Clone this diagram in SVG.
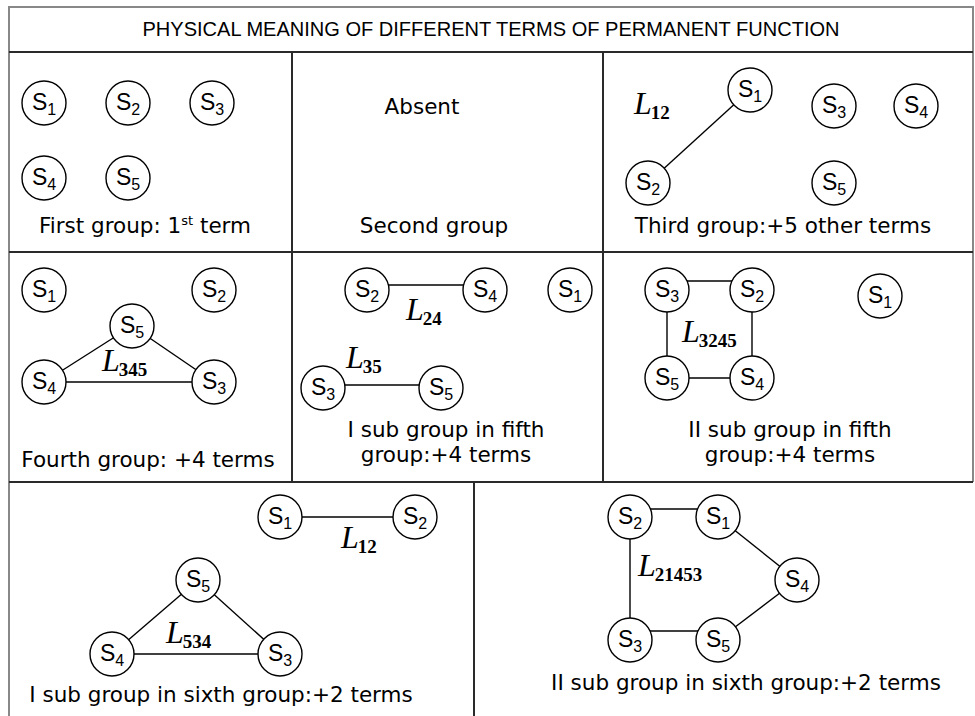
<svg xmlns="http://www.w3.org/2000/svg" width="975" height="716" viewBox="0 0 975 716">
<style>
.bg{fill:#fff}
.outer{stroke:#888;stroke-width:2;fill:none}
.grid{stroke:#2a2a2a;stroke-width:2;fill:none}
.c{fill:#fff;stroke:#000;stroke-width:1.4}
.e{stroke:#000;stroke-width:1.4;fill:none}
.s{font-family:"Liberation Sans",Arial,sans-serif;font-size:23px;fill:#000}
.sub{font-size:16px}
.L{font-family:"Liberation Serif","Times New Roman",serif;font-style:italic;font-size:32px;fill:#000}
.Ls{font-style:normal;font-weight:bold;font-size:19px}
.t{font-family:"DejaVu Sans",Verdana,sans-serif;font-size:21.5px;fill:#000}
.sup{font-size:13px}
.h{font-family:"Liberation Sans",Arial,sans-serif;font-size:21px;fill:#000}
</style>
<rect class="bg" x="0" y="0" width="975" height="716"/>
<g id="grid">
<path class="outer" d="M9,716 V7 H973 V482"/>
<path class="grid" d="M9,52 H973 M9,252 H973 M9,482 H973 M292,52 V482 M603,52 V482 M474,482 V716"/>
</g>
<text class="h" x="491" y="36" text-anchor="middle" textLength="697" lengthAdjust="spacingAndGlyphs">PHYSICAL MEANING OF DIFFERENT TERMS OF PERMANENT FUNCTION</text>
<g id="connectors">
<line class="e" x1="750" y1="90" x2="648" y2="183"/>
<line class="e" x1="132" y1="326" x2="44" y2="382"/>
<line class="e" x1="132" y1="326" x2="214" y2="382"/>
<line class="e" x1="44" y1="382" x2="214" y2="382"/>
<line class="e" x1="367" y1="285" x2="485" y2="285"/>
<line class="e" x1="323" y1="385" x2="441" y2="385"/>
<line class="e" x1="667" y1="281" x2="752" y2="281"/>
<line class="e" x1="667" y1="290" x2="667" y2="378"/>
<line class="e" x1="752" y1="290" x2="752" y2="378"/>
<line class="e" x1="667" y1="378" x2="752" y2="378"/>
<line class="e" x1="280" y1="517" x2="415" y2="517"/>
<line class="e" x1="198" y1="580" x2="112" y2="654"/>
<line class="e" x1="198" y1="580" x2="280" y2="654"/>
<line class="e" x1="112" y1="654" x2="280" y2="654"/>
<line class="e" x1="630" y1="509" x2="718" y2="509"/>
<line class="e" x1="630" y1="517" x2="630" y2="640"/>
<line class="e" x1="718" y1="517" x2="797" y2="580"/>
<line class="e" x1="797" y1="580" x2="718" y2="640"/>
<line class="e" x1="630" y1="631" x2="718" y2="631"/>
</g>
<g id="cell-first">
<g id="g1-s1"><circle class="c" cx="44" cy="103" r="22"/><text class="s" x="44" y="110" text-anchor="middle">S<tspan class="sub" dy="5">1</tspan></text></g>
<g id="g1-s2"><circle class="c" cx="128" cy="103" r="22"/><text class="s" x="128" y="110" text-anchor="middle">S<tspan class="sub" dy="5">2</tspan></text></g>
<g id="g1-s3"><circle class="c" cx="212" cy="103" r="22"/><text class="s" x="212" y="110" text-anchor="middle">S<tspan class="sub" dy="5">3</tspan></text></g>
<g id="g1-s4"><circle class="c" cx="44" cy="178" r="22"/><text class="s" x="44" y="185" text-anchor="middle">S<tspan class="sub" dy="5">4</tspan></text></g>
<g id="g1-s5"><circle class="c" cx="128" cy="178" r="22"/><text class="s" x="128" y="185" text-anchor="middle">S<tspan class="sub" dy="5">5</tspan></text></g>
<text class="t" x="145" y="233" text-anchor="middle">First group:  1<tspan class="sup" dy="-8">st</tspan><tspan dy="8"> term</tspan></text>
</g>
<g id="cell-second">
<text class="t" x="422" y="114" text-anchor="middle">Absent</text>
<text class="t" x="434" y="233" text-anchor="middle">Second group</text>
</g>
<g id="cell-third">
<text class="L" x="634" y="114">L<tspan class="Ls" dx="-1" dy="5">12</tspan></text>
<g id="g3-s1"><circle class="c" cx="750" cy="90" r="22"/><text class="s" x="750" y="97" text-anchor="middle">S<tspan class="sub" dy="5">1</tspan></text></g>
<g id="g3-s2"><circle class="c" cx="648" cy="183" r="22"/><text class="s" x="648" y="190" text-anchor="middle">S<tspan class="sub" dy="5">2</tspan></text></g>
<g id="g3-s3"><circle class="c" cx="834" cy="106" r="22"/><text class="s" x="834" y="113" text-anchor="middle">S<tspan class="sub" dy="5">3</tspan></text></g>
<g id="g3-s4"><circle class="c" cx="916" cy="106" r="22"/><text class="s" x="916" y="113" text-anchor="middle">S<tspan class="sub" dy="5">4</tspan></text></g>
<g id="g3-s5"><circle class="c" cx="834" cy="183" r="22"/><text class="s" x="834" y="190" text-anchor="middle">S<tspan class="sub" dy="5">5</tspan></text></g>
<text class="t" x="783" y="233" text-anchor="middle">Third group:+5 other terms</text>
</g>
<g id="cell-fourth">
<g id="g4-s1"><circle class="c" cx="44" cy="290" r="22"/><text class="s" x="44" y="297" text-anchor="middle">S<tspan class="sub" dy="5">1</tspan></text></g>
<g id="g4-s2"><circle class="c" cx="214" cy="290" r="22"/><text class="s" x="214" y="297" text-anchor="middle">S<tspan class="sub" dy="5">2</tspan></text></g>
<g id="g4-s5"><circle class="c" cx="132" cy="326" r="22"/><text class="s" x="132" y="333" text-anchor="middle">S<tspan class="sub" dy="5">5</tspan></text></g>
<g id="g4-s4"><circle class="c" cx="44" cy="382" r="22"/><text class="s" x="44" y="389" text-anchor="middle">S<tspan class="sub" dy="5">4</tspan></text></g>
<g id="g4-s3"><circle class="c" cx="214" cy="382" r="22"/><text class="s" x="214" y="389" text-anchor="middle">S<tspan class="sub" dy="5">3</tspan></text></g>
<text class="L" x="102" y="371">L<tspan class="Ls" dx="-1" dy="5">345</tspan></text>
<text class="t" x="148" y="467" text-anchor="middle">Fourth group: +4 terms</text>
</g>
<g id="cell-fifth-1">
<g id="g5-s2"><circle class="c" cx="367" cy="290" r="22"/><text class="s" x="367" y="297" text-anchor="middle">S<tspan class="sub" dy="5">2</tspan></text></g>
<g id="g5-s4"><circle class="c" cx="485" cy="290" r="22"/><text class="s" x="485" y="297" text-anchor="middle">S<tspan class="sub" dy="5">4</tspan></text></g>
<g id="g5-s1"><circle class="c" cx="570" cy="290" r="22"/><text class="s" x="570" y="297" text-anchor="middle">S<tspan class="sub" dy="5">1</tspan></text></g>
<g id="g5-s3"><circle class="c" cx="323" cy="388" r="22"/><text class="s" x="323" y="395" text-anchor="middle">S<tspan class="sub" dy="5">3</tspan></text></g>
<g id="g5-s5"><circle class="c" cx="441" cy="388" r="22"/><text class="s" x="441" y="395" text-anchor="middle">S<tspan class="sub" dy="5">5</tspan></text></g>
<text class="L" x="406" y="320">L<tspan class="Ls" dx="-1" dy="5">24</tspan></text>
<text class="L" x="346" y="368">L<tspan class="Ls" dx="-1" dy="5">35</tspan></text>
<text class="t" x="446" y="437" text-anchor="middle">I sub group in fifth</text>
<text class="t" x="446" y="462" text-anchor="middle">group:+4 terms</text>
</g>
<g id="cell-fifth-2">
<g id="g6-s3"><circle class="c" cx="667" cy="290" r="22"/><text class="s" x="667" y="297" text-anchor="middle">S<tspan class="sub" dy="5">3</tspan></text></g>
<g id="g6-s2"><circle class="c" cx="752" cy="290" r="22"/><text class="s" x="752" y="297" text-anchor="middle">S<tspan class="sub" dy="5">2</tspan></text></g>
<g id="g6-s1"><circle class="c" cx="880" cy="296" r="22"/><text class="s" x="880" y="303" text-anchor="middle">S<tspan class="sub" dy="5">1</tspan></text></g>
<g id="g6-s5"><circle class="c" cx="667" cy="378" r="22"/><text class="s" x="667" y="385" text-anchor="middle">S<tspan class="sub" dy="5">5</tspan></text></g>
<g id="g6-s4"><circle class="c" cx="752" cy="378" r="22"/><text class="s" x="752" y="385" text-anchor="middle">S<tspan class="sub" dy="5">4</tspan></text></g>
<text class="L" x="682" y="342">L<tspan class="Ls" dx="-1" dy="5">3245</tspan></text>
<text class="t" x="790" y="437" text-anchor="middle">II sub group in fifth</text>
<text class="t" x="790" y="462" text-anchor="middle">group:+4 terms</text>
</g>
<g id="cell-sixth-1">
<g id="g7-s1"><circle class="c" cx="280" cy="517" r="22"/><text class="s" x="280" y="524" text-anchor="middle">S<tspan class="sub" dy="5">1</tspan></text></g>
<g id="g7-s2"><circle class="c" cx="415" cy="517" r="22"/><text class="s" x="415" y="524" text-anchor="middle">S<tspan class="sub" dy="5">2</tspan></text></g>
<g id="g7-s5"><circle class="c" cx="198" cy="580" r="22"/><text class="s" x="198" y="587" text-anchor="middle">S<tspan class="sub" dy="5">5</tspan></text></g>
<g id="g7-s4"><circle class="c" cx="112" cy="654" r="22"/><text class="s" x="112" y="661" text-anchor="middle">S<tspan class="sub" dy="5">4</tspan></text></g>
<g id="g7-s3"><circle class="c" cx="280" cy="654" r="22"/><text class="s" x="280" y="661" text-anchor="middle">S<tspan class="sub" dy="5">3</tspan></text></g>
<text class="L" x="341" y="548">L<tspan class="Ls" dx="-1" dy="5">12</tspan></text>
<text class="L" x="166" y="643">L<tspan class="Ls" dx="-1" dy="5">534</tspan></text>
<text class="t" x="221" y="702" text-anchor="middle">I sub group in sixth group:+2 terms</text>
</g>
<g id="cell-sixth-2">
<g id="g8-s2"><circle class="c" cx="630" cy="517" r="22"/><text class="s" x="630" y="524" text-anchor="middle">S<tspan class="sub" dy="5">2</tspan></text></g>
<g id="g8-s1"><circle class="c" cx="718" cy="517" r="22"/><text class="s" x="718" y="524" text-anchor="middle">S<tspan class="sub" dy="5">1</tspan></text></g>
<g id="g8-s4"><circle class="c" cx="797" cy="580" r="22"/><text class="s" x="797" y="587" text-anchor="middle">S<tspan class="sub" dy="5">4</tspan></text></g>
<g id="g8-s3"><circle class="c" cx="630" cy="640" r="22"/><text class="s" x="630" y="647" text-anchor="middle">S<tspan class="sub" dy="5">3</tspan></text></g>
<g id="g8-s5"><circle class="c" cx="718" cy="640" r="22"/><text class="s" x="718" y="647" text-anchor="middle">S<tspan class="sub" dy="5">5</tspan></text></g>
<text class="L" x="638" y="576">L<tspan class="Ls" dx="-1" dy="5">21453</tspan></text>
<text class="t" x="746" y="690" text-anchor="middle">II sub group in sixth group:+2 terms</text>
</g>
</svg>
